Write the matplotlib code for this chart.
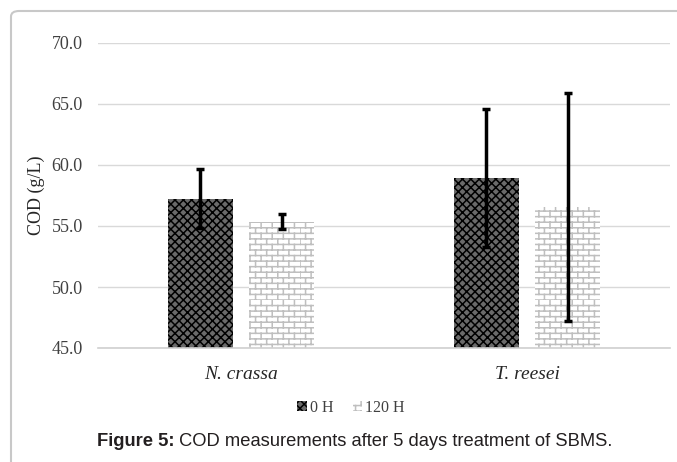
import warnings
import numpy as np
import matplotlib
matplotlib.use('Agg')
import matplotlib.pyplot as plt
import matplotlib.hatch as mhatch
from matplotlib.path import Path
from matplotlib.patches import FancyBboxPatch

warnings.filterwarnings('ignore')

# Data
species = ['N. crassa', 'T. reesei']
series = ['0 H', '120 H']
cod_0h = [57.25, 58.95]
err_0h = [2.4, 5.65]
cod_120h = [55.35, 56.55]
err_120h = [0.6, 9.35]


# brick hatch for the 120 H bars (matplotlib has none built in)
class BrickHatch(mhatch.HatchPatternBase):
    def __init__(self, hatch, density):
        self.rows = int(hatch.count('b') * density)
        self.rows -= self.rows % 2
        self.num_vertices = 2 * self.rows + self.rows * self.rows

    def set_vertices_and_codes(self, vertices, codes):
        n = self.rows
        h = 1.0 / n
        i = 0
        for k in range(n):
            vertices[i] = (0, k * h)
            vertices[i + 1] = (1, k * h)
            codes[i] = Path.MOVETO
            codes[i + 1] = Path.LINETO
            i += 2
        for k in range(n):
            for j in range(n // 2):
                x = j * 2 * h + (k % 2) * h
                vertices[i] = (x, k * h)
                vertices[i + 1] = (x, (k + 1) * h)
                codes[i] = Path.MOVETO
                codes[i + 1] = Path.LINETO
                i += 2


mhatch._hatch_types.append(BrickHatch)

plt.rcParams['font.family'] = 'Liberation Serif'
plt.rcParams['hatch.linewidth'] = 1.1

fig = plt.figure(figsize=(6.77, 4.62), dpi=100)
ax = fig.add_axes([98 / 677, 114 / 462, 572 / 677, 305 / 462])

x = np.arange(len(species))
w = 0.227
off = 0.142

ax.bar(x - off, cod_0h, w, color='#6a6a6a', edgecolor='black', linewidth=0,
       hatch='xxxx', label=series[0], zorder=2)
ax.bar(x + off, cod_120h, w, color='white', edgecolor='#bfbfbf', linewidth=0,
       hatch='bbb', label=series[1], zorder=2)
ax.errorbar(x - off, cod_0h, yerr=err_0h, fmt='none', ecolor='black',
            elinewidth=2.5, capsize=3, capthick=2.5, zorder=3)
ax.errorbar(x + off, cod_120h, yerr=err_120h, fmt='none', ecolor='black',
            elinewidth=2.5, capsize=3, capthick=2.5, zorder=3)

ax.set_xlim(-0.5, 1.5)
ax.set_ylim(45, 70)
ax.set_yticks(np.arange(45, 70.1, 5))
ax.set_yticklabels(['%.1f' % v for v in np.arange(45, 70.1, 5)], fontsize=13,
                   color='#404040')
ax.set_xticks(x)
ax.set_xticklabels(species, fontsize=14, style='italic', color='#262626')
ax.tick_params(length=0)
ax.tick_params(axis='x', pad=13)
ax.tick_params(axis='y', pad=11)
ax.grid(axis='y', color='#d9d9d9', linewidth=1, zorder=0)
ax.set_axisbelow(True)
for s in ['top', 'right', 'left']:
    ax.spines[s].set_visible(False)
ax.spines['bottom'].set_color('#d0d0d0')
ax.spines['bottom'].set_linewidth(1.2)
ax.set_ylabel('COD (g/L)', fontsize=13, color='#262626', labelpad=5)

leg = fig.legend(loc='center', bbox_to_anchor=(351 / 677, 1 - 408 / 462),
                 ncol=2, frameon=False, fontsize=11.5, handlelength=0.6,
                 handleheight=0.6, handletextpad=0.2, columnspacing=1.2)
for t in leg.get_texts():
    t.set_color('#404040')

# outer rounded frame
frame = FancyBboxPatch((11 / 677, -0.1), 1.0, 0.1 + 1 - 11 / 462,
                       boxstyle='round,pad=0,rounding_size=0.012',
                       transform=fig.transFigure, facecolor='none',
                       edgecolor='#c8c8c8', linewidth=1.5, clip_on=False)
fig.add_artist(frame)

# caption, bold label then regular text
cap1 = fig.text(97 / 677, 1 - 442 / 462, 'Figure 5:', fontsize=13.2,
                fontweight='bold', family='Liberation Sans', va='center',
                ha='left', color='#231f20')
plt.annotate(' COD measurements after 5 days treatment of SBMS.',
             xy=(1, 0), xycoords=cap1, va='bottom', ha='left',
             fontsize=13.2, family='Liberation Sans', color='#231f20',
             annotation_clip=False)

plt.savefig('out.png', dpi=100)
